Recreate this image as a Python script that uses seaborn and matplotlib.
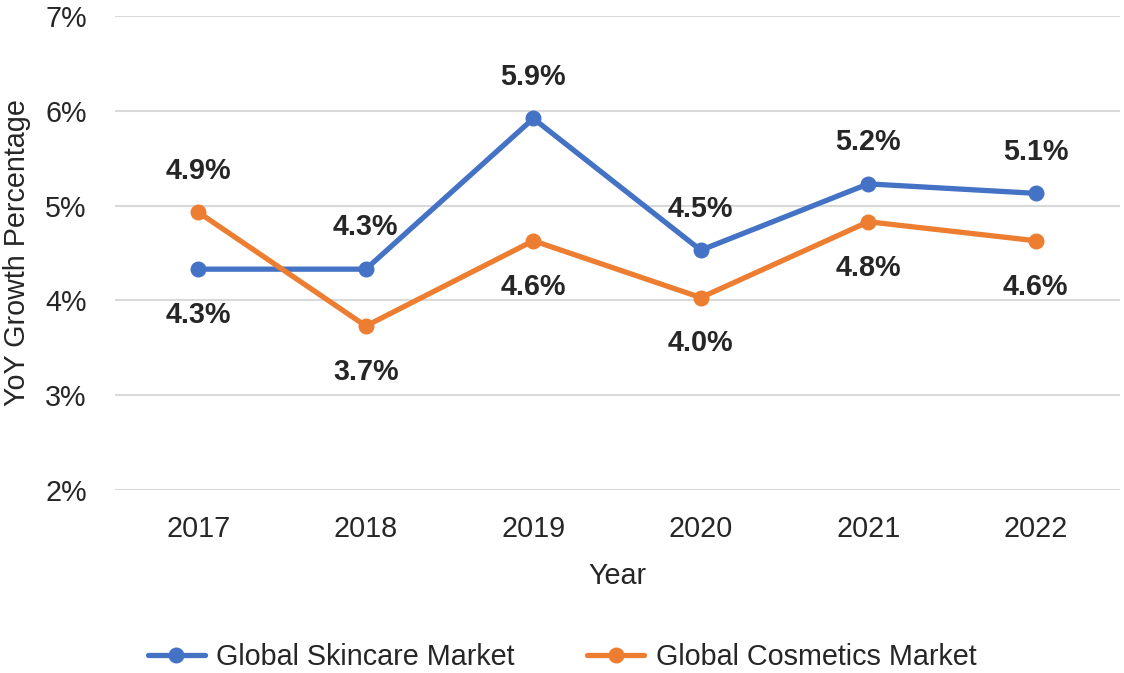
import pandas as pd
import matplotlib.pyplot as plt
import seaborn as sns

# --- Dados ---
years = ['2017', '2018', '2019', '2020', '2021', '2022']
skincare = [4.33, 4.33, 5.92, 4.53, 5.23, 5.13]
cosmetics = [4.93, 3.73, 4.63, 4.03, 4.83, 4.63]
series_names = ['Global Skincare Market', 'Global Cosmetics Market']
colors = ['#4472C4', '#ED7D31']
# posição do rótulo: 1 = acima, -1 = abaixo
skincare_label_side = [-1, 1, 1, 1, 1, 1]
cosmetics_label_side = [1, -1, -1, -1, -1, -1]

df = pd.DataFrame({
    'Year': years * 2,
    'Growth': skincare + cosmetics,
    'Market': [series_names[0]] * len(years) + [series_names[1]] * len(years),
})

# --- Estilo ---
sns.set_style("white")
plt.rcParams['font.family'] = ['Liberation Sans', 'DejaVu Sans']
text_color = '#262626'
fs = 20.7

fig = plt.figure(figsize=(11.24, 6.73), dpi=100)
ax = fig.add_axes([0.102, 0.272, 0.894, 0.704])

sns.lineplot(data=df, x='Year', y='Growth', hue='Market', palette=colors,
             marker='o', markersize=11.5, markeredgewidth=0, linewidth=3.8,
             sort=False, ax=ax, legend=False)

# --- Rótulos de dados ---
for vals, sides in [(skincare, skincare_label_side),
                    (cosmetics, cosmetics_label_side)]:
    for i, (v, s) in enumerate(zip(vals, sides)):
        off = 30 if s > 0 else -33
        ax.annotate(f'{v:.1f}%', xy=(i, v), xytext=(0, off),
                    textcoords='offset points', ha='center', va='center',
                    fontsize=fs, fontweight='bold', color=text_color)

# --- Eixos ---
ax.set_xlim(-0.5, len(years) - 0.5)
ax.set_ylim(2, 7)
ax.set_yticks(range(2, 8))
ax.set_yticklabels([f'{t}%' for t in range(2, 8)])
ax.grid(axis='y', color='#d9d9d9', linewidth=1.5)
ax.grid(axis='x', visible=False)
for sp in ax.spines.values():
    sp.set_visible(False)
ax.tick_params(axis='both', length=0, labelsize=fs, colors=text_color)
ax.tick_params(axis='x', pad=18)
ax.tick_params(axis='y', pad=20)
ax.set_xlabel('Year', fontsize=fs, color=text_color, labelpad=14)
ax.set_ylabel('YoY Growth Percentage', fontsize=fs, color=text_color, labelpad=10)

# --- Legenda ---
handles = [plt.Line2D([], [], color=c, linewidth=3.8, marker='o', markersize=11.5,
                      markeredgewidth=0) for c in colors]
fig.legend(handles, series_names, loc='center', bbox_to_anchor=(0.5, 0.024),
           ncol=2, frameon=False, fontsize=fs, handlelength=2.0,
           handletextpad=0.4, columnspacing=2.5, labelcolor=text_color)

plt.savefig('out.png', dpi=100)
plt.close()
